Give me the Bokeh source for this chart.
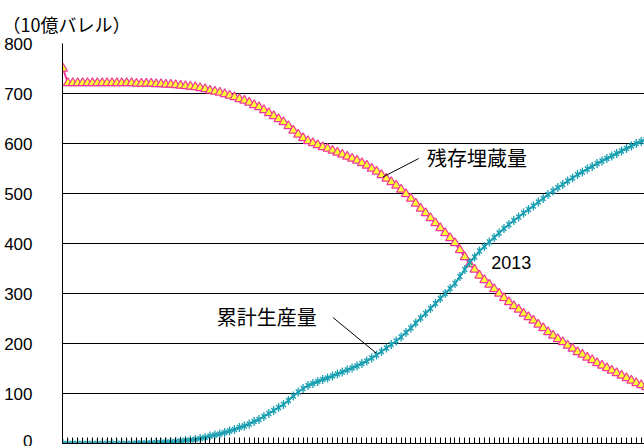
from bokeh.plotting import figure
from bokeh.models import Range1d, SingleIntervalTicker, CustomJSTickFormatter, Label
from bokeh.embed import file_html
from bokeh.resources import INLINE

years = list(range(1930, 2051))

cumulative = [
    0, 0, 0, 0, 0, 0, 0, 0, 0, 0, 0, 0, 0, 0, 0,
    1, 1, 1, 1, 2, 2,
    3, 3, 4, 5, 6, 7, 8, 10, 12,
    15, 17, 19, 22, 25, 28, 32, 35, 39, 44,
    48, 54, 60, 66, 72, 78, 86, 95, 103, 110,
    116, 120, 124, 128, 131, 135, 139, 143, 147, 151,
    155, 160, 165, 171, 177, 184, 191, 198, 205, 213,
    222, 231, 241, 251, 260, 270, 280, 290, 300, 310,
    320, 334, 348, 362, 373, 385, 394, 403, 412, 421,
    430, 438, 446, 453, 461, 468, 475, 483, 490, 498,
    505, 512, 518, 525, 531, 538, 543, 549, 554, 560,
    565, 570, 575, 580, 585, 590, 595, 600, 604, 608,
    612,
]

reserves = [
    750,
    721, 721, 721, 721, 721, 721, 721, 721, 721, 721, 721, 721, 721, 721,
    720, 720, 720, 720,
    719, 719, 718, 718, 717, 716, 715, 714, 713, 711, 709,
    706, 704, 702, 699, 696, 693, 689, 686, 682, 677,
    673, 667, 661, 655, 649, 643, 635, 626, 618, 611,
    605, 601, 597, 593, 590, 586, 582, 578, 574, 570,
    566, 561, 556, 550, 544, 537, 530, 523, 516, 508,
    499, 490, 480, 470, 461, 451, 441, 431, 421, 411,
    401, 387, 373, 359, 348, 336, 327, 318, 309, 300,
    291, 283, 275, 268, 260, 253, 246, 238, 231, 223,
    216, 209, 203, 196, 190, 183, 178, 172, 167, 161,
    156, 151, 146, 141, 136, 131, 126, 121, 117, 113,
    109,
]

unit_label = "（10億バレル）"
reserves_label = "残存埋蔵量"
cumulative_label = "累計生産量"
cross_label = "2013"

PINK = "#f0379a"
YELLOW = "#ffff33"
TEAL = "#1a9fb2"
LAT = "Liberation Sans"
JP = "Noto Sans CJK JP"

p = figure(width=644, height=446, output_backend="svg", toolbar_location=None,
           x_range=Range1d(1929.9, 1929.9 + 582 / 4.9), y_range=Range1d(0, 800),
           min_border_left=62, min_border_right=0, min_border_top=43, min_border_bottom=3)
p.outline_line_color = None
p.background_fill_color = "white"
p.border_fill_color = "white"

p.title.text = unit_label
p.title.align = "left"
p.title.offset = -60
p.title.standoff = 13
p.title.text_font = JP
p.title.text_font_size = "18px"
p.title.text_font_style = "normal"
p.title.text_color = "black"

p.xgrid.visible = False
p.yaxis.ticker = SingleIntervalTicker(interval=100, num_minor_ticks=0)
p.ygrid.ticker = SingleIntervalTicker(interval=100, num_minor_ticks=0)
p.ygrid.grid_line_color = "black"
p.ygrid.grid_line_width = 1

p.yaxis.axis_line_color = "black"
p.yaxis.major_tick_out = 0
p.yaxis.major_tick_in = 0
p.yaxis.minor_tick_line_color = None
p.yaxis.major_label_text_font = LAT
p.yaxis.major_label_text_font_size = "17px"
p.yaxis.major_label_text_color = "black"
p.yaxis.major_label_standoff = 30

p.xaxis.ticker = SingleIntervalTicker(interval=1, num_minor_ticks=0)
p.xaxis.axis_line_color = "black"
p.xaxis.major_tick_in = 6
p.xaxis.major_tick_out = 0
p.xaxis.major_tick_line_color = "black"
p.xaxis.minor_tick_line_color = None
p.xaxis.formatter = CustomJSTickFormatter(code="return ''")
p.xaxis.major_label_text_font_size = "0px"
p.xaxis.major_label_standoff = 0

# remaining reserves
p.line(years, reserves, line_color=PINK, line_width=2)
p.scatter(years, reserves, marker="triangle", size=9, fill_color=YELLOW,
          line_color=PINK, line_width=1.2)

# cumulative production
p.line(years, cumulative, line_color=TEAL, line_width=2)
p.scatter(years, cumulative, marker="x", size=7, line_color=TEAL, line_width=1.3)
p.scatter(years, cumulative, marker="dash", angle=1.5708, size=9, line_color=TEAL, line_width=1.3)

# leader lines
p.segment(x0=[2002.6, 1985.1], y0=[570, 252], x1=[1995.3, 1993.9], y1=[533, 181],
          line_color="black", line_width=1)

p.add_layout(Label(x=2004.3, y=572, text=reserves_label, text_font=JP, text_font_size="20px",
                   text_color="black", text_baseline="middle", text_align="left"))
p.add_layout(Label(x=1961.4, y=254, text=cumulative_label, text_font=JP, text_font_size="20px",
                   text_color="black", text_baseline="middle", text_align="left"))
p.add_layout(Label(x=2017.4, y=362, text=cross_label, text_font=LAT, text_font_size="18px",
                   text_color="black", text_baseline="middle", text_align="left"))

open("out.html", "w").write(file_html(p, INLINE))
